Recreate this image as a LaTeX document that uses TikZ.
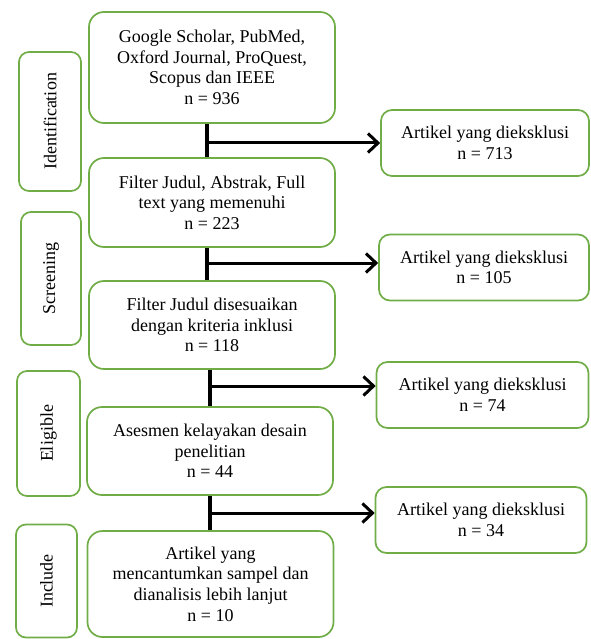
\documentclass[tikz,border=0pt]{standalone}
\usepackage{fontspec}
\setmainfont{Liberation Serif}
\usetikzlibrary{arrows.meta}
\definecolor{boxgreen}{HTML}{70AD47}
\begin{document}
\begin{tikzpicture}[x=1pt,y=-1pt,
  every node/.style={font=\fontsize{18}{20.6}\selectfont},
  mainbox/.style={draw=boxgreen,line width=1.7pt,rounded corners=15pt,align=center,inner sep=2pt,minimum width=246pt},
  sidebox/.style={draw=boxgreen,line width=1.7pt,rounded corners=10pt,align=center,inner sep=2pt,rotate=90},
  exbox/.style={draw=boxgreen,line width=1.7pt,rounded corners=11pt,align=center,inner sep=2pt,minimum height=66pt},
  vline/.style={line width=3.5pt},
  hline/.style={line width=3pt,-{Straight Barb[length=10pt,width=19pt,line width=3pt]}}
]
\useasboundingbox (0,0) rectangle (590,639);

% main boxes
\node[mainbox,minimum height=111pt] (b1) at (212,67.5) {Google Scholar, PubMed,\\Oxford Journal, ProQuest,\\Scopus dan IEEE\\n = 936};
\node[mainbox,minimum height=89pt] (b2) at (212,202.5) {Filter Judul, Abstrak, Full\\text yang memenuhi\\n = 223};
\node[mainbox,minimum height=88pt] (b3) at (212,325) {Filter Judul disesuaikan\\dengan kriteria inklusi\\n = 118};
\node[mainbox,minimum height=88pt] (b4) at (210,451) {Asesmen kelayakan desain\\penelitian\\n = 44};
\node[mainbox,minimum height=106pt] (b5) at (210.5,584) {Artikel yang\\mencantumkan sampel dan\\dianalisis lebih lanjut\\n = 10};

% side boxes
\node[sidebox,minimum width=139pt,minimum height=62pt] (s1) at (50,121.5) {Identification};
\node[sidebox,minimum width=133pt,minimum height=60pt] (s2) at (51,278.5) {Screening};
\node[sidebox,minimum width=125pt,minimum height=63pt] (s3) at (48.5,433.5) {Eligible};
\node[sidebox,minimum width=113pt,minimum height=61pt] (s4) at (46.5,581) {Include};

% excluded boxes
\node[exbox,minimum width=208pt] (r1) at (485,143) {Artikel yang dieksklusi\\n = 713};
\node[exbox,minimum width=210pt] (r2) at (484,267.5) {Artikel yang dieksklusi\\n = 105};
\node[exbox,minimum width=212pt] (r3) at (482.5,395) {Artikel yang dieksklusi\\n = 74};
\node[exbox,minimum width=211pt] (r4) at (481,520) {Artikel yang dieksklusi\\n = 34};

% junctions
\coordinate (j1) at (207,143);
\coordinate (j2) at (207,263);
\coordinate (j3) at (210,386);
\coordinate (j4) at (210,513);

\draw[vline] (b1.south -| j1) -- (b2.north -| j1);
\draw[vline] (b2.south -| j2) -- (b3.north -| j2);
\draw[vline] (b3.south -| j3) -- (b4.north -| j3);
\draw[vline] (b4.south -| j4) -- (b5.north -| j4);

\draw[hline] ([xshift=-1.75pt]j1) -- (j1 -| r1.west);
\draw[hline] ([xshift=-1.75pt]j2) -- (j2 -| r2.west);
\draw[hline] ([xshift=-1.75pt]j3) -- (j3 -| r3.west);
\draw[hline] ([xshift=-1.75pt]j4) -- (j4 -| r4.west);
\end{tikzpicture}
\end{document}
